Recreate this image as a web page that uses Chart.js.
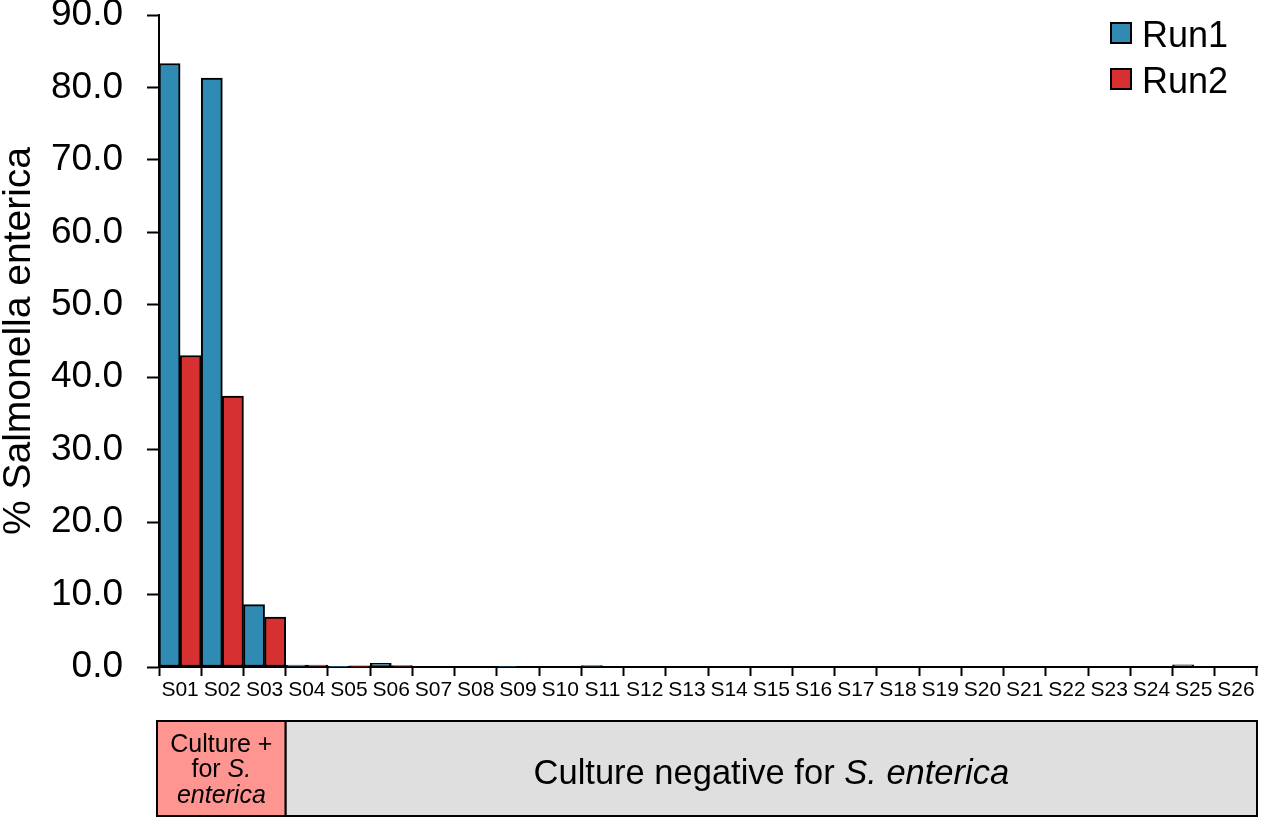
<!DOCTYPE html>
<html>
<head>
<meta charset="utf-8">
<script src="https://cdn.jsdelivr.net/npm/chart.js@4/dist/chart.umd.min.js"></script>
<style>
  body { margin: 0; background: #fff; }
  #wrap { width: 1267px; height: 822px; position: relative; }
</style>
</head>
<body>
<div id="wrap"><canvas id="myChart"></canvas></div>
<script>
const muestras = ['S01','S02','S03','S04','S05','S06','S07','S08','S09','S10','S11','S12','S13',
                  'S14','S15','S16','S17','S18','S19','S20','S21','S22','S23','S24','S25','S26']
const run1 = [83.3, 81.3, 8.6, 0.25, 0.05, 0.5, 0, 0, 0.08, 0, 0.2, 0, 0,
              0, 0, 0, 0, 0, 0, 0, 0, 0, 0, 0, 0.3, 0]
const run2 = [43.0, 37.4, 6.9, 0.25, 0.15, 0.2, 0, 0, 0, 0, 0, 0, 0,
              0, 0, 0, 0, 0, 0, 0, 0, 0, 0, 0, 0, 0]
const nPositivos = 3 // S01-S03 culture positive

const fuente = "'Liberation Sans', Arial, sans-serif"

// write a line made of [text, italic] pieces centred on x
function textoMixto(ctx, piezas, x, y, size){
    let total = 0
    piezas.forEach(p => {
        ctx.font = (p[1] ? 'italic ' : '') + size + 'px ' + fuente
        total += ctx.measureText(p[0]).width
    })
    let cx = x - total / 2
    piezas.forEach(p => {
        ctx.font = (p[1] ? 'italic ' : '') + size + 'px ' + fuente
        ctx.fillText(p[0], cx, y)
        cx += ctx.measureText(p[0]).width
    })
}

const extras = {
    id: 'extras',
    afterDraw(chart){
        const ctx = chart.ctx
        const xs = chart.scales.x
        const area = chart.chartArea
        const half = (xs.getPixelForValue(1) - xs.getPixelForValue(0)) / 2
        const x0 = xs.getPixelForValue(0) - half - 2
        const x1 = xs.getPixelForValue(nPositivos - 1) + half
        const x2 = xs.getPixelForValue(muestras.length - 1) + half
        const top = area.bottom + 54
        const h = 95

        ctx.save()
        ctx.lineWidth = 2
        ctx.strokeStyle = '#000'
        ctx.fillStyle = '#ff9590'
        ctx.fillRect(x0, top, x1 - x0, h)
        ctx.strokeRect(x0, top, x1 - x0, h)
        ctx.fillStyle = '#dfdfdf'
        ctx.fillRect(x1, top, x2 - x1, h)
        ctx.strokeRect(x1, top, x2 - x1, h)

        ctx.fillStyle = '#000'
        ctx.textBaseline = 'middle'
        const cp = (x0 + x1) / 2
        textoMixto(ctx, [['Culture +', false]], cp, top + 24, 25)
        textoMixto(ctx, [['for ', false], ['S.', true]], cp, top + 49, 25)
        textoMixto(ctx, [['enterica', true]], cp, top + 75, 25)
        textoMixto(ctx, [['Culture negative for ', false], ['S. enterica', true]], (x1 + x2) / 2, top + 53, 34.5)

        // legend
        const lx = area.right - 146
        chart.data.datasets.forEach((d, i) => {
            const ly = area.top + 8 + i * 46
            ctx.fillStyle = d.backgroundColor
            ctx.fillRect(lx, ly, 20, 20)
            ctx.lineWidth = 2
            ctx.strokeRect(lx, ly, 20, 20)
            ctx.fillStyle = '#000'
            ctx.font = '36px ' + fuente
            ctx.textAlign = 'left'
            ctx.fillText(d.label, lx + 31, ly + 14)
        })
        ctx.restore()
    }
}

const grafico = new Chart(document.getElementById('myChart'), {
    type: 'bar',
    data: {
        labels: muestras,
        datasets: [
            { label: 'Run1', data: run1, backgroundColor: '#308bb4', borderColor: '#000', borderWidth: 2, borderSkipped: false },
            { label: 'Run2', data: run2, backgroundColor: '#d63031', borderColor: '#000', borderWidth: 2, borderSkipped: false }
        ]
    },
    options: {
        responsive: true,
        maintainAspectRatio: false,
        animation: false,
        layout: { padding: { top: 15, right: 10, left: 0, bottom: 0 } },
        datasets: { bar: { categoryPercentage: 1.0, barPercentage: 1.0 } },
        plugins: { legend: { display: false }, tooltip: { enabled: false } },
        scales: {
            x: {
                afterFit: s => { s.height = 155 },
                grid: { drawOnChartArea: false, offset: true, tickLength: 9, tickWidth: 2, tickColor: '#000' },
                border: { color: '#000', width: 2 },
                ticks: { color: '#000', font: { family: fuente, size: 21 }, padding: 2, maxRotation: 0, autoSkip: false }
            },
            y: {
                min: 0,
                max: 90,
                afterFit: s => { s.width = 159; s.paddingTop = 0; s.paddingBottom = 0 },
                grid: { drawOnChartArea: false, tickLength: 12, tickWidth: 2, tickColor: '#000' },
                border: { color: '#000', width: 2 },
                ticks: { stepSize: 10, color: '#000', font: { family: fuente, size: 37 }, padding: 24,
                         callback: v => v.toFixed(1) },
                title: { display: true, text: '% Salmonella enterica', color: '#000',
                         font: { family: fuente, size: 39, lineHeight: 1.0 }, padding: 0 }
            }
        }
    },
    plugins: [extras]
})
</script>
</body>
</html>
